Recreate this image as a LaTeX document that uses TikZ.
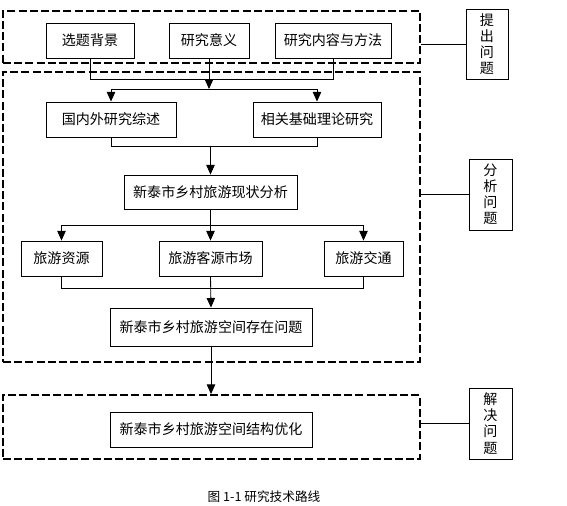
\documentclass[tikz,border=0pt]{standalone}
\usepackage{fontspec}
\setmainfont{Noto Sans CJK SC}
\usetikzlibrary{arrows.meta}
\tikzset{every path/.style={line width=0.6pt}, box/.style={draw, inner sep=0pt, align=center, minimum height=0.875cm, font=\fontsize{10pt}{11pt}\selectfont}, sidebox/.style={box, font=\fontsize{10pt}{11.5pt}\selectfont}, frame/.style={draw, line width=1.3pt, dash pattern=on 2mm off 0.8mm, inner sep=0pt, minimum width=10.425cm}, arr/.style={-{Triangle[length=2.4mm,width=2.1mm]}}}

\begin{document}
\begin{tikzpicture}
  \useasboundingbox (0,0) rectangle (14.175,-12.65);
  % dashed frames
  \node[frame, minimum height=1.3cm]  (f1) at (5.2875,-0.925)  {};
  \node[frame, minimum height=7.25cm] (f2) at (5.2875,-5.425)  {};
  \node[frame, minimum height=1.6cm]  (f3) at (5.2875,-10.675) {};

  \node[box, minimum width=2.2cm]   (bj) at (2.25,  -1.0125) {选题背景};
  \node[box, minimum width=2.0cm]   (yy) at (5.225, -1.0125) {研究意义};
  \node[box, minimum width=2.9cm]   (nr) at (8.325, -1.0125) {研究内容与方法};
  \node[box, minimum width=3.25cm]  (zs) at (2.775, -2.9875) {国内外研究综述};
  \node[box, minimum width=3.2cm]   (ll) at (7.925, -2.9875) {相关基础理论研究};
  \node[box, minimum width=4.325cm, minimum height=0.85cm] (xz) at (5.2625,-4.8) {新泰市乡村旅游现状分析};
  \node[box, minimum width=2.025cm] (zy) at (1.5375,-6.4625) {旅游资源};
  \node[box, minimum width=2.575cm] (sc) at (5.2625,-6.4625) {旅游客源市场};
  \node[box, minimum width=1.975cm] (jt) at (9.0875,-6.4625) {旅游交通};
  \node[box, minimum width=5.05cm, minimum height=0.95cm] (wt) at (5.275,-8.175) {新泰市乡村旅游空间存在问题};
  \node[box, minimum width=5.05cm]  (yh) at (5.275,-10.7375) {新泰市乡村旅游空间结构优化};

  \node[sidebox, minimum width=1.05cm,  minimum height=1.75cm]  (tc) at (12.175, -1.1)     {提\\出\\问\\题};
  \node[sidebox, minimum width=1.075cm, minimum height=1.775cm] (fx) at (12.2625,-4.8625)  {分\\析\\问\\题};
  \node[sidebox, minimum width=1.075cm, minimum height=1.775cm] (jj) at (12.2625,-10.5875) {解\\决\\问\\题};

  \coordinate (j1) at (5.225,-1.975);
  \coordinate (j2) at (5.225,-2.225);
  \coordinate (j3) at (5.2625,-3.65);
  \coordinate (j4) at (5.2625,-5.625);
  \coordinate (j5) at (5.2625,-7.2);

  \draw (bj.south) -- (bj.south |- j1) -- (nr.south |- j1) -- (nr.south);
  \draw[arr] (yy.south) -- (j2);
  \draw (zs.north |- j2) -- (ll.north |- j2);
  \draw[arr] (zs.north |- j2) -- (zs.north);
  \draw[arr] (ll.north |- j2) -- (ll.north);

  \draw (zs.south) -- (zs.south |- j3) -- (ll.south |- j3) -- (ll.south);
  \draw[arr] (j3) -- (xz.north);

  \draw (xz.south) -- (j4);
  \draw (zy.north |- j4) -- (jt.north |- j4);
  \draw[arr] (zy.north |- j4) -- (zy.north);
  \draw[arr] (j4) -- (sc.north);
  \draw[arr] (jt.north |- j4) -- (jt.north);

  \draw (zy.south) -- (zy.south |- j5) -- (jt.south |- j5) -- (jt.south);
  \draw[arr] (sc.south) -- (wt.north);
  \draw[arr] (wt.south) -- (wt.south |- f3.north);

  % side labels
  \draw (f1.east |- tc.west) -- (tc.west);
  \draw (f2.east |- fx.west) -- (fx.west);
  \draw (f3.east |- jj.west) -- (jj.west);

  \node[font=\fontsize{9pt}{10pt}\selectfont] (cap) at (6.6,-12.425) {图 1-1 研究技术路线};
\end{tikzpicture}
\end{document}
